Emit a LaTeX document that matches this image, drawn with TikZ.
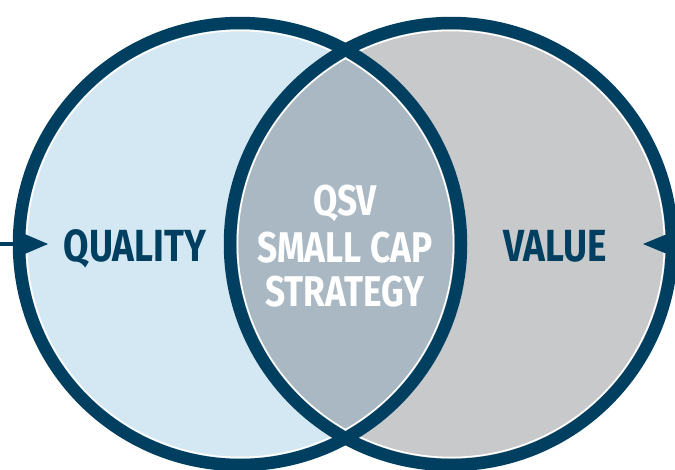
\documentclass[tikz,border=0pt]{standalone}
\usepackage{fontspec}
\setmainfont{Fira Sans}[FakeStretch=0.82]
\definecolor{navy}{HTML}{003F5F}
\definecolor{lblue}{HTML}{D4E8F3}
\definecolor{lgray}{HTML}{C8C9CB}
\definecolor{lens}{HTML}{A9B8C2}
\tikzset{
  ring/.style={draw=navy, line width=12.5pt},
  inring/.style={draw=white, line width=1.6pt},
  lbl/.style={inner sep=0pt, anchor=base, font=\fontsize{45}{45}\selectfont\bfseries, text=navy},
  mid/.style={inner sep=0pt, anchor=base, font=\fontsize{43}{43}\selectfont\bfseries, text=white},
  tip/.style={fill=navy, draw=none}
}
\begin{document}
\begin{tikzpicture}[x=1pt,y=-1pt]
\useasboundingbox (0,0) rectangle (675,469);
\coordinate (cl) at (240,244);
\coordinate (cr) at (451,244);
% fills
\fill[lblue] (cl) circle (221);
\fill[lgray] (cr) circle (221);
\begin{scope}
  \clip (cl) circle (221);
  \fill[lens] (cr) circle (221);
\end{scope}
% inner white lines
\draw[inring] (cl) circle (213.5);
\draw[inring] (cr) circle (213.5);
% rings
\draw[ring] (cl) circle (221);
\draw[ring] (cr) circle (221);
% arrows
\coordinate (la0) at (0,244);
\coordinate (la1) at (22,244);
\draw[navy, line width=4.5pt] (la0) -- (la1);
\fill[tip] (20,232) -- (48,244) -- (20,256) -- cycle;
\fill[tip] (672,232) -- (643,244) -- (672,256) -- cycle;
% labels
\node[lbl] (q) at (135,261) {QUALITY};
\node[lbl] (v) at (555,261) {VALUE};
\node[mid] (t1) at (345,215) {QSV};
\node[mid] (t2) at (345,262) {SMALL CAP};
\node[mid] (t3) at (345,306) {STRATEGY};
\end{tikzpicture}
\end{document}
